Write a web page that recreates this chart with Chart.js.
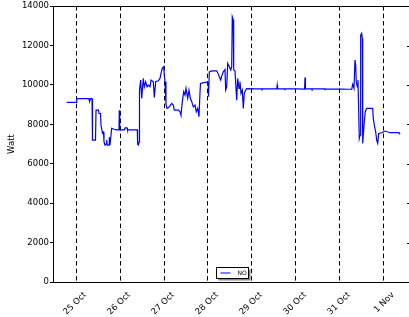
<!DOCTYPE html>
<html>
<head>
<meta charset="utf-8">
<script src="https://cdn.jsdelivr.net/npm/chart.js@4.4.1/dist/chart.umd.min.js"></script>
<style>
html, body { margin: 0; padding: 0; overflow: hidden; background: #fff; }
#wrap { width: 414px; height: 317px; }
</style>
</head>
<body>
<div id="wrap"><canvas id="chart" width="414" height="317"></canvas></div>
<script>
// x = days since 25 Oct 00:00, y = Watt
const dayLabels = ['25 Oct', '26 Oct', '27 Oct', '28 Oct', '29 Oct', '30 Oct', '31 Oct', '1 Nov'];
const yTicks = [0, 2000, 4000, 6000, 8000, 10000, 12000, 14000];
const seriesName = 'NO';

const days = [
    -0.211, 0.011, 0.018, 0.295, 0.307, 0.330, 0.364, 0.375, 0.443, 0.455,
    0.511, 0.523, 0.557, 0.568, 0.602, 0.625, 0.636, 0.659, 0.682, 0.698,
    0.709, 0.750, 0.757, 0.773, 0.795, 0.811, 0.864, 0.932, 0.977, 0.984,
    0.993, 1.102, 1.114, 1.159, 1.170, 1.393, 1.400, 1.416, 1.432, 1.443,
    1.470, 1.493, 1.530, 1.552, 1.584, 1.614, 1.643, 1.682, 1.705, 1.757,
    1.780, 1.811, 1.870, 1.909, 1.932, 1.961, 1.993, 2.007, 2.023, 2.045,
    2.068, 2.098, 2.136, 2.175, 2.211, 2.234, 2.325, 2.364, 2.386, 2.416,
    2.448, 2.477, 2.500, 2.539, 2.568, 2.598, 2.630, 2.666, 2.705, 2.734,
    2.766, 2.795, 2.818, 2.830, 2.932, 3.007, 3.011, 3.030, 3.091, 3.198,
    3.227, 3.257, 3.289, 3.311, 3.348, 3.386, 3.402, 3.425, 3.448, 3.484,
    3.516, 3.539, 3.552, 3.575, 3.584, 3.614, 3.652, 3.675, 3.705, 3.727,
    3.750, 3.780, 3.802, 3.825, 3.857, 3.880, 4.068, 4.220, 4.227, 4.234,
    4.409, 4.564, 4.573, 4.582, 4.745, 4.750, 4.755, 5.000, 5.195, 5.205,
    5.214, 5.360, 5.364, 5.368, 5.655, 5.659, 5.663, 6.045, 6.182, 6.266,
    6.289, 6.318, 6.341, 6.357, 6.370, 6.393, 6.409, 6.439, 6.455, 6.470,
    6.493, 6.507, 6.516, 6.530, 6.552, 6.575, 6.607, 6.743, 6.757, 6.780,
    6.811, 6.834, 6.857, 6.880, 6.955, 7.023, 7.136, 7.341, 7.364
];

const watts = [
    9110, 9110, 9300, 9300, 9150, 9300, 9300, 7200, 7200, 8720,
    8720, 8550, 8550, 7960, 7550, 7600, 7120, 6950, 7000, 7200,
    6950, 6950, 7350, 6950, 6950, 7800, 7750, 7720, 7720, 8720,
    7720, 7720, 7820, 7820, 7720, 7720, 7000, 6950, 7100, 9740,
    10245, 9320, 10330, 9905, 10160, 9905, 9990, 9905, 10245, 10160,
    9370, 10160, 10210, 10330, 10585, 10840, 10920, 10500, 10160, 9010,
    8810, 8840, 8940, 9065, 8980, 8725, 8725, 8640, 8470, 9150,
    9655, 9485, 9825, 9320, 9740, 9320, 9150, 8890, 8980, 8640,
    8810, 8385, 9600, 10075, 10125, 10125, 9400, 10665, 10715, 10715,
    10585, 10415, 10245, 10450, 10665, 10785, 9740, 9905, 11090, 10920,
    10755, 10920, 13455, 13290, 10755, 10700, 9230, 10330, 9825, 10160,
    9570, 9740, 8810, 9570, 9740, 9810, 9800, 9800, 9720, 9800,
    9800, 9800, 9990, 9800, 9800, 9730, 9800, 9800, 9790, 10380,
    9800, 9800, 9730, 9800, 9800, 9740, 9800, 9790, 9780, 9790,
    10030, 9825, 11260, 11005, 10160, 9905, 10245, 7290, 7450, 12530,
    12615, 12360, 7035, 7455, 8130, 8640, 8810, 8810, 8300, 7965,
    7625, 7200, 7035, 7540, 7575, 7660, 7575, 7575, 7490
];

const tickFont = { family: 'DejaVu Sans', size: 8.5 };

// box around the plot, inward ticks on the right, small legend at lower centre
const framePlugin = {
    id: 'frame',
    afterDraw(chart) {
        const ctx = chart.ctx;
        const a = chart.chartArea;
        const ys = chart.scales.y;
        ctx.save();
        ctx.strokeStyle = '#000';
        ctx.lineWidth = 1;
        ctx.setLineDash([]);
        ctx.strokeRect(Math.round(a.left) + 0.5, Math.round(a.top) + 0.5,
            Math.round(a.right - a.left), Math.round(a.bottom - a.top));
        yTicks.forEach(v => {
            const py = Math.round(ys.getPixelForValue(v)) + 0.5;
            ctx.beginPath();
            ctx.moveTo(a.right - 4, py);
            ctx.lineTo(a.right, py);
            ctx.stroke();
        });

        const w = 32, h = 11;
        const lx = Math.round((a.left + a.right) / 2 - w / 2) + 0.5;
        const ly = Math.round(a.bottom - h - 4) + 0.5;
        ctx.fillStyle = '#888';
        ctx.fillRect(lx + 2, ly + 2, w, h);
        ctx.fillStyle = '#fff';
        ctx.fillRect(lx, ly, w, h);
        ctx.strokeRect(lx, ly, w, h);
        ctx.strokeStyle = '#0000ff';
        ctx.beginPath();
        ctx.moveTo(lx + 4, ly + h / 2);
        ctx.lineTo(lx + 14, ly + h / 2);
        ctx.stroke();
        ctx.fillStyle = '#000';
        ctx.font = '6px "DejaVu Sans"';
        ctx.textBaseline = 'middle';
        ctx.fillText(chart.data.datasets[0].label, lx + 21, ly + h / 2 + 0.5);
        ctx.restore();
    }
};

new Chart(document.getElementById('chart'), {
    type: 'line',
    data: {
        datasets: [{
            label: seriesName,
            data: days.map((d, i) => ({ x: d, y: watts[i] })),
            borderColor: '#0000ff',
            borderWidth: 1.2,
            pointRadius: 0,
            tension: 0,
            fill: false
        }]
    },
    options: {
        responsive: false,
        animation: false,
        layout: { padding: { top: 6, right: 3, left: 0, bottom: 0 } },
        plugins: {
            legend: { display: false },
            tooltip: { enabled: false }
        },
        scales: {
            x: {
                type: 'linear',
                min: -0.523,
                max: 7.614,
                afterBuildTicks: s => { s.ticks = dayLabels.map((_, i) => ({ value: i })); },
                afterFit: s => { s.height = 35; },
                ticks: {
                    callback: (v, i) => dayLabels[i],
                    minRotation: 45,
                    maxRotation: 45,
                    autoSkip: false,
                    font: tickFont,
                    color: '#000',
                    padding: 8,
                    labelOffset: 9
                },
                grid: { color: '#000', lineWidth: 1, drawTicks: false },
                border: { display: true, color: '#000', dash: [4.5, 3] }
            },
            y: {
                min: 0,
                max: 14000,
                afterBuildTicks: s => { s.ticks = yTicks.map(v => ({ value: v })); },
                afterFit: s => { s.width = 53; },
                ticks: { font: tickFont, color: '#000', padding: 1, callback: v => v },
                grid: { drawOnChartArea: false, drawTicks: true, tickLength: 3, color: '#000' },
                border: { display: true, color: '#000' },
                title: {
                    display: true,
                    text: 'Watt',
                    color: '#000',
                    font: tickFont,
                    padding: { top: 7, bottom: 0 }
                }
            }
        }
    },
    plugins: [framePlugin]
});
</script>
</body>
</html>
